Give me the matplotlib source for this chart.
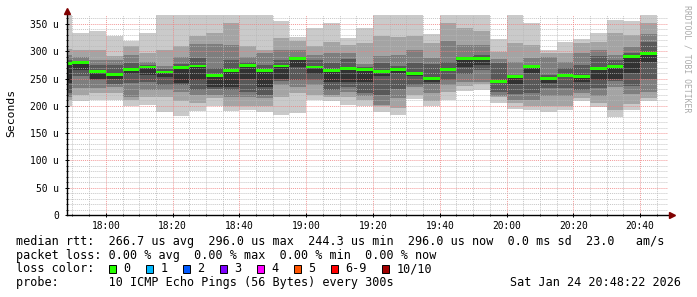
import numpy as np
import matplotlib.pyplot as plt
from matplotlib.patches import Rectangle
from matplotlib.ticker import MultipleLocator, FuncFormatter

plt.rcParams['font.family'] = ['DejaVu Sans Mono']

W, H = 697, 297

# graph window 17:48:22 .. 20:48:22 (minutes since midnight)
t_start = 17 * 60 + 48 + 22 / 60
t_end = 20 * 60 + 48 + 22 / 60

# end time of each 300s step
times = ["17:50", "17:55", "18:00", "18:05", "18:10", "18:15", "18:20", "18:25",
         "18:30", "18:35", "18:40", "18:45", "18:50", "18:55", "19:00", "19:05",
         "19:10", "19:15", "19:20", "19:25", "19:30", "19:35", "19:40", "19:45",
         "19:50", "19:55", "20:00", "20:05", "20:10", "20:15", "20:20", "20:25",
         "20:30", "20:35", "20:40", "20:45"]

# median rtt per step (us)
medians = [278, 279, 263, 258, 267, 271, 262, 270, 273, 256,
           265, 274, 264, 273, 287, 271, 265, 268, 266, 263,
           266, 259, 250, 266, 286, 286, 244.3, 254, 272, 250,
           256, 254, 268, 272, 290, 296]

# the 10 sorted pings of each step (us), min .. max
pings = [
    [199, 211, 217, 223, 241, 278, 284, 293, 305, 370],
    [208, 220, 232, 254, 266, 279, 283, 290, 302, 334],
    [211, 224, 232, 247, 250, 263, 275, 284, 302, 338],
    [211, 223, 235, 240, 249, 258, 275, 284, 291, 328],
    [199, 210, 216, 241, 258, 267, 278, 293, 310, 319],
    [202, 216, 229, 244, 257, 271, 275, 281, 296, 334],
    [188, 216, 229, 238, 253, 262, 267, 273, 303, 370],
    [182, 208, 226, 238, 241, 270, 277, 290, 310, 370],
    [191, 205, 220, 229, 247, 273, 287, 313, 328, 370],
    [199, 214, 220, 230, 234, 256, 269, 313, 334, 370],
    [190, 199, 216, 229, 235, 265, 284, 311, 351, 370],
    [193, 199, 216, 226, 250, 274, 281, 290, 310, 370],
    [188, 199, 214, 220, 235, 264, 275, 297, 302, 370],
    [183, 217, 238, 246, 250, 273, 284, 303, 324, 356],
    [186, 223, 235, 247, 272, 287, 290, 303, 319, 327],
    [210, 220, 238, 247, 258, 271, 284, 293, 310, 342],
    [208, 216, 220, 229, 244, 265, 278, 297, 317, 352],
    [202, 216, 226, 235, 244, 268, 285, 296, 311, 324],
    [199, 211, 218, 224, 244, 266, 271, 277, 315, 342],
    [188, 199, 202, 220, 254, 263, 278, 291, 328, 370],
    [183, 196, 214, 231, 260, 266, 273, 293, 327, 370],
    [212, 220, 234, 238, 254, 259, 278, 302, 328, 370],
    [199, 208, 224, 240, 244, 250, 277, 287, 316, 332],
    [211, 226, 238, 247, 263, 266, 281, 319, 352, 370],
    [228, 236, 244, 258, 272, 286, 290, 312, 342, 370],
    [229, 240, 243, 266, 275, 286, 293, 311, 338, 370],
    [206, 216, 218, 226, 242, 244, 278, 285, 299, 322],
    [194, 206, 211, 222, 240, 254, 257, 281, 315, 370],
    [193, 200, 211, 223, 260, 272, 273, 287, 311, 351],
    [188, 199, 218, 232, 242, 250, 257, 290, 297, 303],
    [193, 200, 218, 232, 252, 256, 269, 281, 296, 317],
    [208, 214, 223, 229, 244, 254, 275, 297, 315, 322],
    [197, 206, 218, 232, 247, 268, 291, 303, 317, 334],
    [180, 193, 234, 246, 250, 272, 284, 293, 333, 358],
    [193, 203, 222, 236, 260, 290, 297, 308, 330, 356],
    [208, 214, 226, 250, 281, 296, 317, 332, 351, 370],
]

smoke_colors = ['#cacaca', '#a4a4a4', '#7e7e7e', '#585858', '#323232']

loss_labels = ["0", "1", "2", "3", "4", "5", "6-9", "10/10"]
loss_colors = ['#26ff00', '#00b8ff', '#0059ff', '#7e00ff', '#ff00ff',
               '#ff5500', '#ff0000', '#a10000']

line_rtt = "median rtt:  266.7 us avg  296.0 us max  244.3 us min  296.0 us now  0.0 ms sd  23.0   am/s"
line_loss = "packet loss: 0.00 % avg  0.00 % max  0.00 % min  0.00 % now"
line_probe = "probe:       10 ICMP Echo Pings (56 Bytes) every 300s"
stamp = "Sat Jan 24 20:48:22 2026"


def to_min(s):
    h, m = s.split(":")
    return int(h) * 60 + int(m)


ends = np.array([to_min(s) for s in times], float)
starts = np.maximum(ends - 5, t_start)
widths = ends - starts
P = np.array(pings, float)

fig = plt.figure(figsize=(W / 100, H / 100), dpi=100)
ax = fig.add_axes([67 / W, 82 / H, 601 / W, 200 / H])

# smoke: nested bands between ping i and ping 11-i
for j, col in enumerate(smoke_colors):
    lo = P[:, j]
    hi = P[:, 9 - j]
    ax.bar(starts, hi - lo, width=widths, bottom=lo, align='edge',
           color=col, linewidth=0, antialiased=False, zorder=1)

# median band
mh = 5.2
ax.bar(starts, mh, width=widths, bottom=np.array(medians) - mh / 2, align='edge',
       color=loss_colors[0], linewidth=0, antialiased=False, zorder=3)

ax.set_xlim(t_start, t_end)
ax.set_ylim(0, 366.4)

ax.xaxis.set_major_locator(MultipleLocator(20))
ax.xaxis.set_minor_locator(MultipleLocator(5))
ax.xaxis.set_major_formatter(FuncFormatter(lambda v, p: "%02d:%02d" % (int(v) // 60, int(v) % 60)))
ax.yaxis.set_major_locator(MultipleLocator(50))
ax.yaxis.set_minor_locator(MultipleLocator(10))
ax.yaxis.set_major_formatter(FuncFormatter(lambda v, p: "0" if v == 0 else "%d u" % v))

ax.set_axisbelow(False)
ax.grid(which='minor', color='#b8b8b8', alpha=0.8, linestyle=(0, (1, 1)), linewidth=0.7)
ax.grid(which='major', color='#f08080', alpha=0.8, linestyle=(0, (1, 1)), linewidth=0.7)

ax.tick_params(which='major', length=3, width=0.7, direction='inout', labelsize=6.9, colors='black')
ax.tick_params(axis='y', which='major', pad=4.5)
ax.tick_params(axis='x', which='major', pad=2.5)
ax.tick_params(which='minor', length=1.5, width=0.6, direction='inout', colors='black')

for s in ax.spines.values():
    s.set_visible(False)

# axes with arrow heads
ax.plot([0, 1.005], [0, 0], transform=ax.transAxes, color='black', lw=1, clip_on=False, zorder=5)
ax.plot([0, 0], [0, 1.02], transform=ax.transAxes, color='black', lw=1, clip_on=False, zorder=5)
ax.plot([1.007], [0], transform=ax.transAxes, marker='>', color='#800000', markersize=4,
        clip_on=False, zorder=6)
ax.plot([0], [1.022], transform=ax.transAxes, marker='^', color='#800000', markersize=4,
        clip_on=False, zorder=6)

fig.text(11 / W, 1 - 113 / H, "Seconds", rotation=90, ha='center', va='center', fontsize=8.2)
fig.text(687 / W, 1 - 5 / H, "RRDTOOL / TOBI OETIKER", rotation=270, ha='center', va='top',
         fontsize=5.9, color='#aaaaaa')

fs = 8.5
fig.text(16 / W, 1 - 241.7 / H, line_rtt, fontsize=fs, va='center', ha='left')
fig.text(16 / W, 1 - 255.2 / H, line_loss, fontsize=fs, va='center', ha='left')
fig.text(16 / W, 1 - 269.0 / H, "loss color:", fontsize=fs, va='center', ha='left')
fig.text(16 / W, 1 - 282.8 / H, line_probe, fontsize=fs, va='center', ha='left')
fig.text(681 / W, 1 - 282.8 / H, stamp, fontsize=fs, va='center', ha='right')

# loss colour swatches
sx = [108.7, 145.7, 182.7, 219.7, 256.7, 293.7, 330.7, 381.7]
for x0, lab, col in zip(sx, loss_labels, loss_colors):
    fig.patches.append(Rectangle((x0 / W, 1 - 273.3 / H), 7.5 / W, 8 / H,
                                 transform=fig.transFigure, facecolor=col,
                                 edgecolor='black', linewidth=0.7))
    fig.text((x0 + 14.5) / W, 1 - 269.0 / H, lab, fontsize=fs, va='center', ha='left')

fig.savefig('out.png', dpi=100)
